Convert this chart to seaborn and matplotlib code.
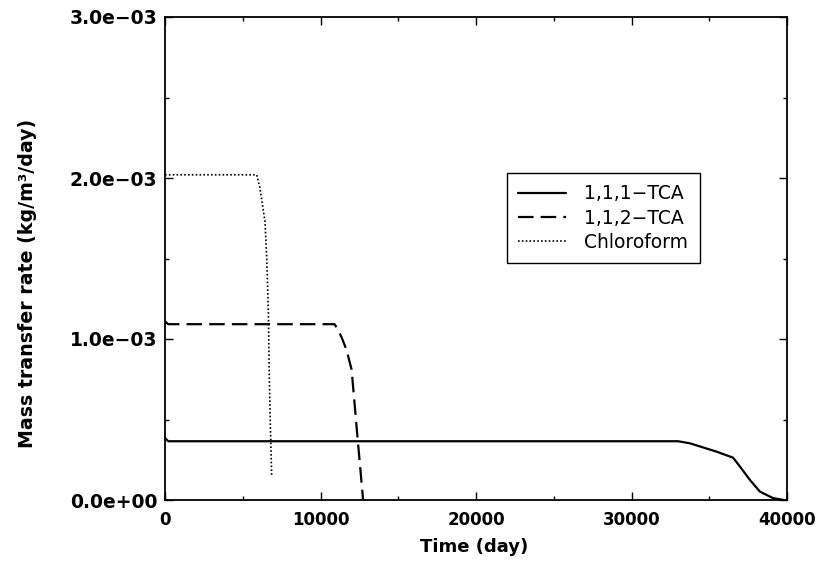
import matplotlib
matplotlib.use("Agg")
import matplotlib.pyplot as plt
import seaborn as sns
import pandas as pd
from matplotlib.ticker import FixedLocator, FixedFormatter

# ---- data ----
t_tca111 = [0, 200, 1000, 10000, 20000, 30000, 33000, 33760, 35480, 36530, 36980, 37620, 38260, 39100, 39800]
v_tca111 = [0.385e-3, 0.365e-3, 0.365e-3, 0.365e-3, 0.365e-3, 0.365e-3, 0.365e-3, 0.352e-3, 0.300e-3,
            0.263e-3, 0.207e-3, 0.124e-3, 0.052e-3, 0.012e-3, 0.0]

t_tca112 = [0, 200, 5000, 10900, 11050, 11360, 11680, 12000, 12370, 12740]
v_tca112 = [1.11e-3, 1.092e-3, 1.092e-3, 1.092e-3, 1.07e-3, 1.01e-3, 0.93e-3, 0.81e-3, 0.40e-3, 0.0]

t_chloro = [0, 3000, 5900, 6100, 6430, 6540, 6650, 6700, 6780, 6860]
v_chloro = [2.02e-3, 2.02e-3, 2.02e-3, 1.94e-3, 1.73e-3, 1.51e-3, 1.16e-3, 0.80e-3, 0.45e-3, 0.15e-3]

series_names = ["1,1,1\u2212TCA", "1,1,2\u2212TCA", "Chloroform"]

x_major = [0, 10000, 20000, 30000, 40000]
x_minor = [5000, 15000, 25000, 35000]
x_labels = ["0", "10000", "20000", "30000", "40000"]
y_major = [0.0, 1.0e-3, 2.0e-3, 3.0e-3]
y_minor = [0.5e-3, 1.5e-3, 2.5e-3]
y_labels = ["0.0e+00", "1.0e\u221203", "2.0e\u221203", "3.0e\u221203"]

# ---- build table ----
df = pd.concat([
    pd.DataFrame({"t": t_tca111, "v": v_tca111, "s": series_names[0]}),
    pd.DataFrame({"t": t_tca112, "v": v_tca112, "s": series_names[1]}),
    pd.DataFrame({"t": t_chloro, "v": v_chloro, "s": series_names[2]}),
], ignore_index=True)

sns.set_theme(style="ticks")
plt.rcParams["font.family"] = ["DejaVu Sans"]
plt.rcParams["text.color"] = "black"
plt.rcParams["axes.labelcolor"] = "black"
plt.rcParams["xtick.color"] = "black"
plt.rcParams["ytick.color"] = "black"

fig = plt.figure(figsize=(8.21, 5.62), dpi=100)
fig.patch.set_facecolor("white")
ax = fig.add_axes([165/821, 1-500/562, 622/821, 483/562])
ax.set_facecolor("white")

styles = {
    series_names[0]: dict(lw=1.6, ls="-"),
    series_names[1]: dict(lw=1.6, ls=(0, (7.0, 3.2))),
    series_names[2]: dict(lw=1.2, ls=(0, (1, 1.3))),
}
for name in series_names:
    sub = df[df["s"] == name]
    sns.lineplot(data=sub, x="t", y="v", ax=ax, color="black", estimator=None, sort=False,
                 label=name, linewidth=styles[name]["lw"], linestyle=styles[name]["ls"])

ax.set_xlim(0, 40000)
ax.set_ylim(0, 3.0e-3)
ax.set_xlabel("")
ax.set_ylabel("")

ax.xaxis.set_major_locator(FixedLocator(x_major))
ax.xaxis.set_major_formatter(FixedFormatter(x_labels))
ax.xaxis.set_minor_locator(FixedLocator(x_minor))
ax.yaxis.set_major_locator(FixedLocator(y_major))
ax.yaxis.set_major_formatter(FixedFormatter(y_labels))
ax.yaxis.set_minor_locator(FixedLocator(y_minor))

for sp in ax.spines.values():
    sp.set_visible(True)
    sp.set_linewidth(1.3)
    sp.set_color("black")

ax.tick_params(which="both", direction="in", top=True, right=True, color="black",
               labelcolor="black", width=1.0)
ax.tick_params(which="major", length=5.5)
ax.tick_params(which="minor", length=3.2)
ax.tick_params(axis="x", which="major", pad=8)
ax.tick_params(axis="y", which="major", pad=5.5)
for lab in ax.get_xticklabels():
    lab.set_fontsize(12)
    lab.set_fontweight("bold")
for lab in ax.get_yticklabels():
    lab.set_fontsize(13.5)
    lab.set_fontweight("bold")

fig.text(474/821, 1-552/562, "Time (day)", ha="center", va="baseline",
         fontsize=13, fontweight="bold", color="black")
fig.text(28/821, 1-283/562, "Mass transfer rate (kg/m\u00b3/day)", rotation=90,
         ha="center", va="center", fontsize=13.7, fontweight="bold", color="black")

leg = ax.legend(loc="upper left", bbox_to_anchor=((507-165)/622, (500-173)/483),
                borderaxespad=0, frameon=True, fancybox=False, fontsize=13.5,
                handlelength=2.56, handletextpad=0.96, labelspacing=0.28, borderpad=0.6)
leg.get_frame().set_edgecolor("black")
leg.get_frame().set_linewidth(1.0)
leg.get_frame().set_facecolor("white")
leg.get_frame().set_alpha(1)
for txt in leg.get_texts():
    txt.set_color("black")

fig.savefig("out.png", dpi=100, facecolor="white")
